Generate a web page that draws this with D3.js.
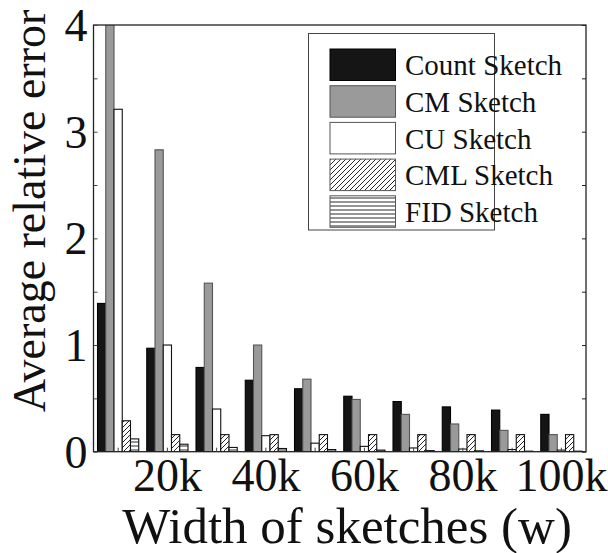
<!DOCTYPE html>
<html>
<head>
<meta charset="utf-8">
<script src="https://cdn.jsdelivr.net/npm/d3@7"></script>
<style>
  html, body { margin: 0; padding: 0; background: #fff; }
  svg { display: block; }
  text { font-family: "Liberation Serif", "Times New Roman", serif; fill: #111; }
</style>
</head>
<body>
<svg id="chart" width="608" height="553"></svg>
<script>
// Sketch widths (groups along the x axis)
const widths = ["10k", "20k", "30k", "40k", "50k", "60k", "70k", "80k", "90k", "100k"];
const xTickLabels = ["20k", "40k", "60k", "80k", "100k"];
const yTicks = [0, 1, 2, 3, 4];

// Average relative error per sketch
const seriesNames = ["Count Sketch", "CM Sketch", "CU Sketch", "CML Sketch", "FID Sketch"];
const countSketch = [1.39, 0.97, 0.79, 0.67, 0.59, 0.52, 0.47, 0.42, 0.39, 0.35];
const cmSketch    = [4.5, 2.83, 1.58, 1.00, 0.68, 0.49, 0.35, 0.26, 0.20, 0.16];
const cuSketch    = [3.21, 1.00, 0.40, 0.15, 0.08, 0.05, 0.035, 0.025, 0.02, 0.015];
const cmlSketch   = [0.29, 0.16, 0.16, 0.16, 0.16, 0.16, 0.16, 0.16, 0.16, 0.16];
const fidSketch   = [0.12, 0.07, 0.04, 0.03, 0.02, 0.015, 0.01, 0.008, 0.005, 0.005];
const seriesValues = [countSketch, cmSketch, cuSketch, cmlSketch, fidSketch];

const svg = d3.select("#chart");
const plot = { left: 93.5, right: 586, top: 25, bottom: 451.7 };

// Fill patterns for the hatched series
const defs = svg.append("defs");
const diag = defs.append("pattern")
  .attr("id", "hatch-diag").attr("patternUnits", "userSpaceOnUse")
  .attr("width", 5).attr("height", 5);
diag.append("rect").attr("width", 5).attr("height", 5).attr("fill", "#fff");
diag.append("path").attr("d", "M-1,1 l2,-2 M0,5 l5,-5 M4,6 l2,-2")
  .attr("stroke", "#111").attr("stroke-width", 0.9);

const horiz = defs.append("pattern")
  .attr("id", "hatch-horiz").attr("patternUnits", "userSpaceOnUse")
  .attr("width", 4).attr("height", 4);
horiz.append("rect").attr("width", 4).attr("height", 4).attr("fill", "#fff");
horiz.append("path").attr("d", "M0,2 H4").attr("stroke", "#111").attr("stroke-width", 0.9);

defs.append("clipPath").attr("id", "plot-clip")
  .append("rect")
  .attr("x", plot.left).attr("y", plot.top)
  .attr("width", plot.right - plot.left).attr("height", plot.bottom - plot.top);

const styles = [
  { fill: "#151515", stroke: "#000" },
  { fill: "#9a9a9a", stroke: "#555" },
  { fill: "#fff", stroke: "#111" },
  { fill: "url(#hatch-diag)", stroke: "#111" },
  { fill: "url(#hatch-horiz)", stroke: "#111" }
];

// Scales
const x0 = d3.scaleBand().domain(widths)
  .range([plot.left, plot.right]).paddingInner(0.163).paddingOuter(0.0815);
const x1 = d3.scaleBand().domain(d3.range(seriesNames.length))
  .range([0, x0.bandwidth()]).padding(0);
const y = d3.scaleLinear().domain([0, 4]).range([plot.bottom, plot.top]);

// Bars
const barLayer = svg.append("g").attr("clip-path", "url(#plot-clip)");
widths.forEach((w, gi) => {
  seriesValues.forEach((vals, si) => {
    barLayer.append("rect")
      .attr("x", x0(w) + x1(si))
      .attr("y", y(vals[gi]))
      .attr("width", x1.bandwidth())
      .attr("height", y(0) - y(vals[gi]))
      .attr("fill", styles[si].fill)
      .attr("stroke", styles[si].stroke)
      .attr("stroke-width", 1.1);
  });
});

// Frame
svg.append("rect")
  .attr("x", plot.left).attr("y", plot.top)
  .attr("width", plot.right - plot.left).attr("height", plot.bottom - plot.top)
  .attr("fill", "none").attr("stroke", "#222").attr("stroke-width", 1.3);

// Y axis (minor ticks every 0.5, labels at integers)
const yMinor = d3.range(0, 4.01, 0.5);
const yAxis = d3.axisLeft(y).tickValues(yMinor).tickSizeInner(-4).tickSizeOuter(0).tickPadding(6)
  .tickFormat(d => yTicks.includes(d) ? d3.format("d")(d) : "");
const gy = svg.append("g").attr("transform", `translate(${plot.left},0)`).call(yAxis);
gy.select(".domain").remove();
gy.selectAll("line").attr("stroke", "#444");
gy.selectAll("text").style("font-size", "46px").attr("dy", "0.34em");

// Mirror ticks on the right edge
const yRight = d3.axisRight(y).tickValues(yMinor).tickSizeInner(-4).tickSizeOuter(0).tickFormat("");
const gyr = svg.append("g").attr("transform", `translate(${plot.right},0)`).call(yRight);
gyr.select(".domain").remove();
gyr.selectAll("line").attr("stroke", "#222");

// X axis: tick at every group, labels on every other one
const xAxis = d3.axisBottom(x0).tickSizeInner(-4).tickSizeOuter(0).tickPadding(7)
  .tickFormat(d => xTickLabels.includes(d) ? d : "");
const gx = svg.append("g").attr("transform", `translate(0,${plot.bottom})`).call(xAxis);
gx.select(".domain").remove();
gx.selectAll("line").attr("stroke", "#444");
gx.selectAll("text").style("font-size", "46px");

// Axis titles
svg.append("text")
  .attr("x", 347).attr("y", 543)
  .attr("text-anchor", "middle")
  .style("font-size", "51px")
  .text("Width of sketches (w)");

svg.append("text")
  .attr("transform", "translate(45,211) rotate(-90)")
  .attr("text-anchor", "middle")
  .style("font-size", "46px")
  .text("Average relative error");

// Legend
const legend = svg.append("g");
legend.append("rect")
  .attr("x", 308.5).attr("y", 33.5).attr("width", 186).attr("height", 196.5)
  .attr("fill", "#fff").attr("stroke", "#444").attr("stroke-width", 1);
seriesNames.forEach((name, i) => {
  const ly = 49 + i * 36.7;
  legend.append("rect")
    .attr("x", 330).attr("y", ly).attr("width", 65.5).attr("height", 31.5)
    .attr("fill", styles[i].fill)
    .attr("stroke", i === 0 ? "#000" : "#555").attr("stroke-width", 1);
  legend.append("text")
    .attr("x", 405).attr("y", ly + 16)
    .attr("dy", "0.35em")
    .style("font-size", "29px")
    .text(name);
});
</script>
</body>
</html>
